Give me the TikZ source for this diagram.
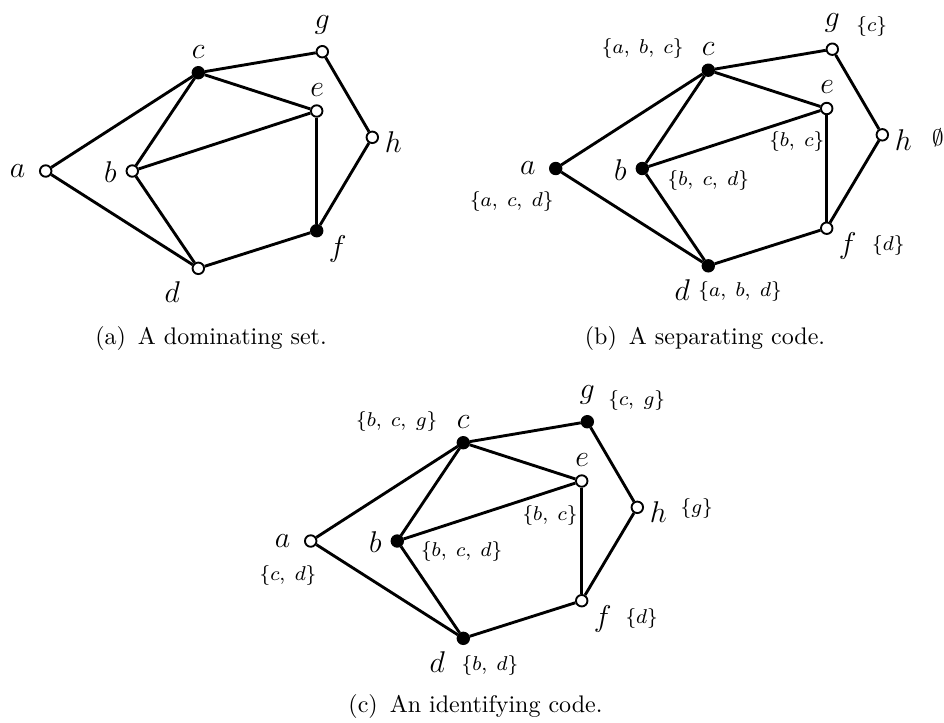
\documentclass[tikz,border=0pt]{standalone}
\begin{document}
\begin{tikzpicture}[x=0.4pt,y=-0.4pt,
  vtx/.style={circle,draw,line width=0.75pt,fill=white,inner sep=0pt,minimum size=4.6pt},
  fvtx/.style={vtx,fill=black},
  edge/.style={line width=1.15pt},
  lbl/.style={inner sep=0pt,font=\fontsize{13}{15}\selectfont},
  setl/.style={inner sep=0pt,font=\fontsize{8}{10}\selectfont},
  capt/.style={inner sep=0pt,font=\fontsize{9.6}{11.5}\selectfont}]
\useasboundingbox (0,0) rectangle (944,722);
\newcommand\mygraph[9]{%
  \node[#2] (a#1) at (45.7,171) {};
  \node[#3] (b#1) at (132.3,171) {};
  \node[#4] (c#1) at (198.3,72.7) {};
  \node[#5] (d#1) at (198.3,268.3) {};
  \node[#6] (e#1) at (316.7,111) {};
  \node[#7] (f#1) at (316.7,230.7) {};
  \node[#8] (g#1) at (322.3,51.7) {};
  \node[#9] (h#1) at (372.3,137.3) {};
  \node[lbl] (la#1) at (17.7,171) {$a$};
  \node[lbl] (lb#1) at (110.3,172.5) {$b$};
  \node[lbl] (lc#1) at (198.3,51.7) {$c$};
  \node[lbl] (ld#1) at (172.3,292.3) {$d$};
  \node[lbl] (le#1) at (317.2,90) {$e$};
  \node[lbl] (lf#1) at (337.7,248.7) {$f$};
  \node[lbl] (lg#1) at (322.3,25.2) {$g$};
  \node[lbl] (lh#1) at (393.3,142.3) {$h$};
  \draw[edge] (a#1) -- (c#1);
  \draw[edge] (a#1) -- (d#1);
  \draw[edge] (b#1) -- (c#1);
  \draw[edge] (b#1) -- (e#1);
  \draw[edge] (b#1) -- (d#1);
  \draw[edge] (c#1) -- (e#1);
  \draw[edge] (c#1) -- (g#1);
  \draw[edge] (e#1) -- (f#1);
  \draw[edge] (g#1) -- (h#1);
  \draw[edge] (h#1) -- (f#1);
  \draw[edge] (d#1) -- (f#1);
}
% (a) dominating set
\begin{scope}
  \mygraph{1}{vtx}{vtx}{fvtx}{vtx}{vtx}{fvtx}{vtx}{vtx}
\end{scope}
% (b) separating code
\begin{scope}[shift={(510,-2.5)}]
  \mygraph{2}{fvtx}{fvtx}{fvtx}{fvtx}{vtx}{vtx}{vtx}{vtx}
\end{scope}
% (c) identifying code
\begin{scope}[shift={(265,370)}]
  \mygraph{3}{vtx}{fvtx}{fvtx}{fvtx}{vtx}{vtx}{fvtx}{vtx}
\end{scope}
% set labels (b)
\node[setl] (sc2) at (642.7,48.3) {$\{a,\;b,\;c\}$};
\node[setl] (sg2) at (871.7,26.7) {$\{c\}$};
\node[setl] (se2) at (796.7,141.7) {$\{b,\;c\}$};
\node[setl] (sb2) at (708.3,180) {$\{b,\;c,\;d\}$};
\node[setl] (sa2) at (511.7,201.7) {$\{a,\;c,\;d\}$};
\node[setl] (sf2) at (888.3,245) {$\{d\}$};
\node[setl] (sd2) at (740,291.7) {$\{a,\;b,\;d\}$};
\node[setl,font=\fontsize{9.5}{11}\selectfont] (sh2) at (938,138) {$\emptyset$};
% set labels (c)
\node[setl] (sc3) at (396.7,421.7) {$\{b,\;c,\;g\}$};
\node[setl] (sg3) at (636.7,400) {$\{c,\;g\}$};
\node[setl] (se3) at (550,515) {$\{b,\;c\}$};
\node[setl] (sb3) at (461.7,551.7) {$\{b,\;c,\;d\}$};
\node[setl] (sa3) at (288,575) {$\{c,\;d\}$};
\node[setl] (sf3) at (641.7,618.3) {$\{d\}$};
\node[setl] (sd3) at (490,665) {$\{b,\;d\}$};
\node[setl] (sh3) at (696.7,508.3) {$\{g\}$};
% captions
\node[capt] (capa) at (211,338) {(a)\enspace A dominating set.};
\node[capt] (capb) at (705,338) {(b)\enspace A separating code.};
\node[capt] (capc) at (475.5,706) {(c)\enspace An identifying code.};
\end{tikzpicture}
\end{document}
